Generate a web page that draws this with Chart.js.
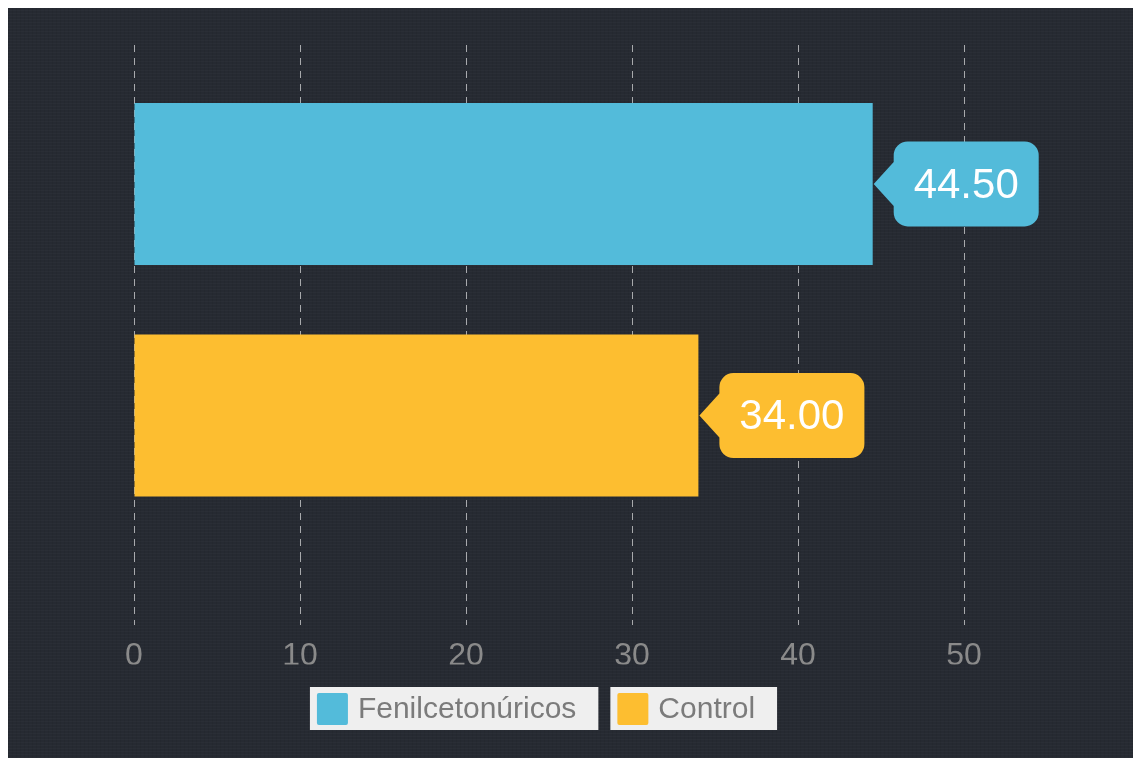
<!DOCTYPE html>
<html lang="es">
<head>
<meta charset="UTF-8">
<title>Fenilcetonúricos vs Control</title>
<script src="https://cdn.jsdelivr.net/npm/chart.js"></script>
<style>
  html, body { margin: 0; padding: 0; background: #fff; }
  .frame {
    position: absolute; left: 8px; top: 8px; width: 1125px; height: 750px;
    background-color: #262a32;
    background-image:
      repeating-linear-gradient(0deg, rgba(255,255,255,0.018) 0 1px, transparent 1px 3px),
      repeating-linear-gradient(90deg, rgba(0,0,0,0.06) 0 1px, transparent 1px 4px);
  }
  canvas { display: block; }
</style>
</head>
<body>
<div class="frame">
  <canvas id="chart" width="1125" height="750"></canvas>
</div>
<script>
// groups and their values
const categories = ['Grupo'];
const seriesNames = ['Fenilcetonúricos', 'Control'];
const seriesValues = [[44.5], [34.0]];
const seriesColors = ['#53bbda', '#fdbe30'];
const tickValues = [0, 10, 20, 30, 40, 50];
const axisMax = 60;

const FONT = '"Liberation Sans", Arial, sans-serif';
const gridColor = 'rgba(255,255,255,0.6)';

// rounded callout with a pointer to the bar end, showing the value
const calloutPlugin = {
  id: 'callouts',
  afterDatasetsDraw(chart) {
    const ctx = chart.ctx;
    chart.data.datasets.forEach((ds, i) => {
      const meta = chart.getDatasetMeta(i);
      meta.data.forEach((bar, j) => {
        const val = ds.data[j];
        const tipX = bar.x + 1, y = bar.y;
        const arrow = 20, ph = 22, w = 145, h = 85, r = 14;
        const bx = tipX + arrow, by = y - h / 2;
        ctx.save();
        ctx.fillStyle = ds.backgroundColor;
        ctx.beginPath();
        ctx.moveTo(bx + r, by);
        ctx.lineTo(bx + w - r, by);
        ctx.arcTo(bx + w, by, bx + w, by + r, r);
        ctx.lineTo(bx + w, by + h - r);
        ctx.arcTo(bx + w, by + h, bx + w - r, by + h, r);
        ctx.lineTo(bx + r, by + h);
        ctx.arcTo(bx, by + h, bx, by + h - r, r);
        ctx.lineTo(bx, y + ph);
        ctx.lineTo(tipX, y);
        ctx.lineTo(bx, y - ph);
        ctx.lineTo(bx, by + r);
        ctx.arcTo(bx, by, bx + r, by, r);
        ctx.closePath();
        ctx.fill();
        ctx.fillStyle = '#ffffff';
        ctx.font = '42px ' + FONT;
        ctx.textAlign = 'center';
        ctx.textBaseline = 'middle';
        ctx.fillText(val.toFixed(2), bx + w / 2, y + 2);
        ctx.restore();
      });
    });
  }
};

// legend with light boxes behind each entry
const legendPlugin = {
  id: 'boxedLegend',
  afterDraw(chart) {
    const ctx = chart.ctx;
    ctx.save();
    ctx.font = '30px ' + FONT;
    const items = chart.data.datasets.map(ds => {
      const tw = ctx.measureText(ds.label).width;
      return { label: ds.label, color: ds.backgroundColor, w: 7 + 31 + 10 + tw + 22 };
    });
    const gap = 12;
    const total = items.reduce((s, it) => s + it.w, 0) + gap * (items.length - 1);
    let x = 535.5 - total / 2;
    const top = 679, bh = 43;
    items.forEach(it => {
      ctx.fillStyle = '#efefef';
      ctx.fillRect(x, top, it.w, bh);
      ctx.fillStyle = it.color;
      ctx.beginPath();
      ctx.roundRect(x + 7, top + 6, 31, 32, 2);
      ctx.fill();
      ctx.fillStyle = '#7b7b7b';
      ctx.textAlign = 'left';
      ctx.textBaseline = 'middle';
      ctx.fillText(it.label, x + 48, top + bh / 2 + 1);
      x += it.w + gap;
    });
    ctx.restore();
  }
};

const chart = new Chart(document.getElementById('chart'), {
  type: 'bar',
  data: {
    labels: categories,
    datasets: seriesNames.map((name, i) => ({
      label: name,
      data: seriesValues[i],
      backgroundColor: seriesColors[i],
      borderWidth: 0,
      barPercentage: 0.7,
      categoryPercentage: 0.909
    }))
  },
  options: {
    indexAxis: 'y',
    responsive: false,
    animation: false,
    layout: { padding: { left: 126, right: 3, top: 37, bottom: 93.5 } },
    plugins: {
      legend: { display: false },
      tooltip: { enabled: false }
    },
    scales: {
      y: { display: false },
      x: {
        min: 0,
        max: axisMax,
        border: { display: false, dash: [7, 6] },
        grid: {
          color: c => tickValues.includes(c.tick && c.tick.value) ? gridColor : 'transparent',
          tickColor: c => tickValues.includes(c.tick && c.tick.value) ? gridColor : 'transparent',
          tickLength: 70.5,
          tickBorderDash: [7, 6],
          lineWidth: 1
        },
        ticks: {
          stepSize: 10,
          padding: 12,
          color: '#8a8a8a',
          font: { family: FONT, size: 32 },
          callback: v => tickValues.includes(v) ? v : ''
        },
        // fixed axis height; no extra room reserved past the last (blank) tick
        afterFit: s => { s.height = 110; s.paddingRight = 0; }
      }
    }
  },
  plugins: [calloutPlugin, legendPlugin]
});
</script>
</body>
</html>
